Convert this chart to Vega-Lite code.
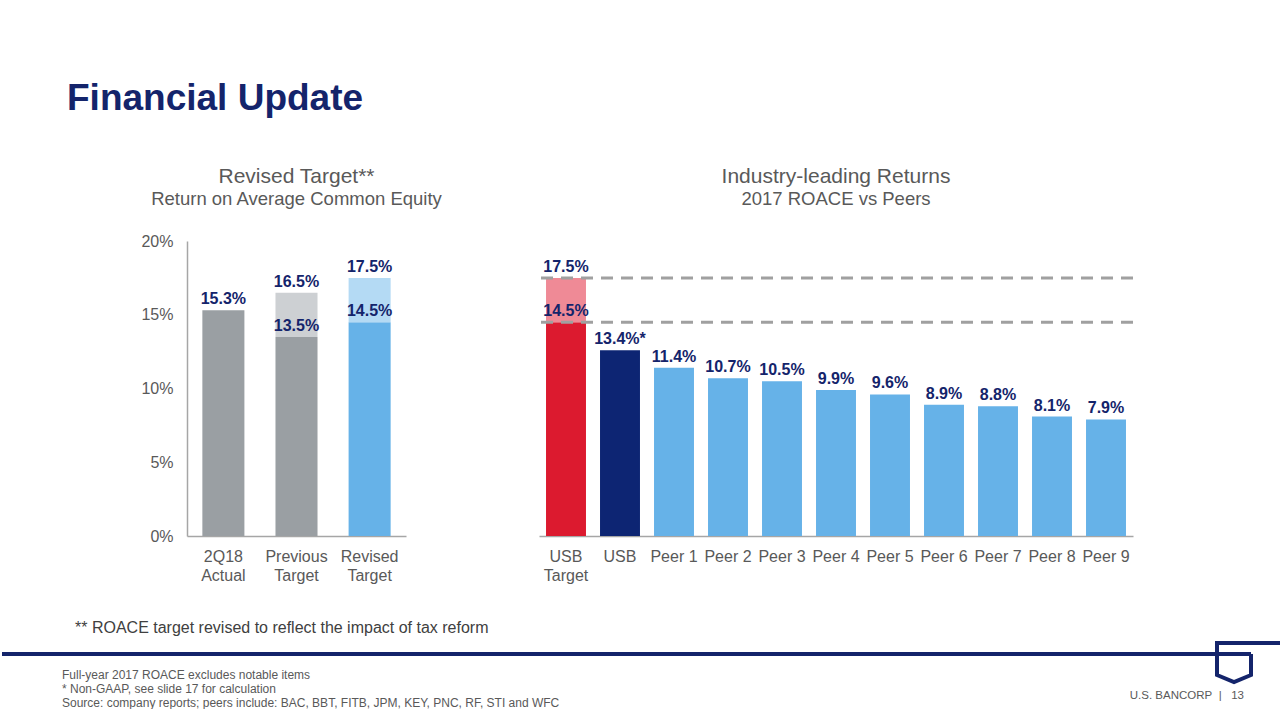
{
  "$schema": "https://vega.github.io/schema/vega-lite/v6.json",
  "background": "white",
  "padding": {"left": 0, "top": 79, "right": 0, "bottom": 0},
  "config": {
    "view": {"stroke": null},
    "font": "Liberation Sans",
    "axis": {"labelFont": "Liberation Sans", "titleFont": "Liberation Sans"},
    "title": {"font": "Liberation Sans", "subtitleFont": "Liberation Sans"},
    "text": {"font": "Liberation Sans"}
  },
  "title": {
    "text": "Financial Update",
    "anchor": "start",
    "frame": "group",
    "dx": 65,
    "fontSize": 37,
    "fontWeight": "bold",
    "color": "#14246b",
    "baseline": "alphabetic",
    "offset": 19
  },
  "spacing": 37,
  "vconcat": [
    {
      "spacing": 94,
      "resolve": {"scale": {"color": "independent", "y": "independent"}},
      "hconcat": [
        {
          "width": 1,
          "height": 295,
          "view": {"fill": "white", "stroke": null},
          "data": {"values": []},
          "mark": {"type": "rule", "opacity": 0},
          "encoding": {}
        },
        {
          "width": 219,
          "height": 295,
          "title": {
            "text": "Revised Target**",
            "subtitle": "Return on Average Common Equity",
            "fontSize": 21,
            "subtitleFontSize": 18.5,
            "fontWeight": "normal",
            "color": "#595959",
            "subtitleColor": "#595959",
            "anchor": "middle",
            "offset": 25,
            "subtitlePadding": 3
          },
          "data": {
            "values": [
              {"cat": "2Q18|Actual", "lo": 0, "hi": 0.153, "seg": "actual", "label": "15.3%"},
              {"cat": "Previous|Target", "lo": 0, "hi": 0.135, "seg": "prevBase", "label": "13.5%"},
              {"cat": "Previous|Target", "lo": 0.135, "hi": 0.165, "seg": "prevTop", "label": "16.5%"},
              {"cat": "Revised|Target", "lo": 0, "hi": 0.145, "seg": "revBase", "label": "14.5%"},
              {"cat": "Revised|Target", "lo": 0.145, "hi": 0.175, "seg": "revTop", "label": "17.5%"}
            ]
          },
          "encoding": {
            "x": {
              "field": "cat",
              "type": "nominal",
              "sort": null,
              "scale": {"paddingInner": 0.425, "paddingOuter": 0.21},
              "axis": {
                "title": null,
                "labelAngle": 0,
                "labelExpr": "split(datum.value, '|')",
                "ticks": false,
                "domainColor": "#a6a6a6",
                "domainWidth": 1.5,
                "labelPadding": 12,
                "labelFontSize": 16,
                "labelColor": "#595959",
                "labelLineHeight": 19
              }
            }
          },
          "layer": [
            {
              "mark": {"type": "bar"},
              "encoding": {
                "y": {
                  "field": "hi",
                  "type": "quantitative",
                  "scale": {"domain": [0, 0.2]},
                  "axis": {
                    "title": null,
                    "values": [0, 0.05, 0.1, 0.15, 0.2],
                    "format": ".0%",
                    "ticks": false,
                    "grid": false,
                    "domainColor": "#a6a6a6",
                    "domainWidth": 1.5,
                    "labelPadding": 14,
                    "labelFontSize": 16,
                    "labelColor": "#595959",
                    "minExtent": 90,
                    "maxExtent": 90
                  }
                },
                "y2": {"field": "lo"},
                "color": {
                  "field": "seg",
                  "type": "nominal",
                  "scale": {
                    "domain": ["actual", "prevBase", "prevTop", "revBase", "revTop"],
                    "range": ["#9a9fa3", "#9a9fa3", "#cdd0d3", "#66b2e8", "#b4daf4"]
                  },
                  "legend": null
                }
              }
            },
            {
              "mark": {"type": "text", "baseline": "alphabetic", "dy": -6, "fontSize": 16, "fontWeight": "bold", "color": "#14246b"},
              "encoding": {
                "y": {"field": "hi", "type": "quantitative"},
                "text": {"field": "label"}
              }
            }
          ]
        },
        {
          "width": 594,
          "height": 295,
          "title": {
            "text": "Industry-leading Returns",
            "subtitle": "2017 ROACE vs Peers",
            "fontSize": 21,
            "subtitleFontSize": 18.5,
            "fontWeight": "normal",
            "color": "#595959",
            "subtitleColor": "#595959",
            "anchor": "middle",
            "offset": 33,
            "subtitlePadding": 3
          },
          "layer": [
            {
              "data": {
                "values": [
                  {"cat": "USB|Target", "lo": 0, "hi": 0.145, "seg": "usbTarget", "label": "14.5%"},
                  {"cat": "USB|Target", "lo": 0.145, "hi": 0.175, "seg": "usbTargetTop", "label": "17.5%"},
                  {"cat": "USB", "lo": 0, "hi": 0.126, "seg": "usb", "label": "13.4%*"},
                  {"cat": "Peer 1", "lo": 0, "hi": 0.114, "seg": "peer", "label": "11.4%"},
                  {"cat": "Peer 2", "lo": 0, "hi": 0.107, "seg": "peer", "label": "10.7%"},
                  {"cat": "Peer 3", "lo": 0, "hi": 0.105, "seg": "peer", "label": "10.5%"},
                  {"cat": "Peer 4", "lo": 0, "hi": 0.099, "seg": "peer", "label": "9.9%"},
                  {"cat": "Peer 5", "lo": 0, "hi": 0.096, "seg": "peer", "label": "9.6%"},
                  {"cat": "Peer 6", "lo": 0, "hi": 0.089, "seg": "peer", "label": "8.9%"},
                  {"cat": "Peer 7", "lo": 0, "hi": 0.088, "seg": "peer", "label": "8.8%"},
                  {"cat": "Peer 8", "lo": 0, "hi": 0.081, "seg": "peer", "label": "8.1%"},
                  {"cat": "Peer 9", "lo": 0, "hi": 0.079, "seg": "peer", "label": "7.9%"}
                ]
              },
              "mark": {"type": "bar"},
              "encoding": {
                "x": {
                  "field": "cat",
                  "type": "nominal",
                  "sort": null,
                  "scale": {"paddingInner": 0.26, "paddingOuter": 0.13},
                  "axis": {
                    "title": null,
                    "labelAngle": 0,
                    "labelExpr": "split(datum.value, '|')",
                    "ticks": false,
                    "domainColor": "#a6a6a6",
                    "domainWidth": 1.5,
                    "labelPadding": 12,
                    "labelFontSize": 16,
                    "labelColor": "#595959",
                    "labelLineHeight": 19
                  }
                },
                "y": {
                  "field": "hi",
                  "type": "quantitative",
                  "scale": {"domain": [0, 0.2]},
                  "axis": null
                },
                "y2": {"field": "lo"},
                "color": {
                  "field": "seg",
                  "type": "nominal",
                  "scale": {
                    "domain": ["usbTarget", "usbTargetTop", "usb", "peer"],
                    "range": ["#dc1a2f", "#ef8a96", "#0d2573", "#66b2e8"]
                  },
                  "legend": null
                }
              }
            },
            {
              "data": {"values": [{"ref": 0.175}, {"ref": 0.145}]},
              "mark": {"type": "rule", "color": "#a0a0a0", "strokeWidth": 3, "strokeDash": [12, 8]},
              "encoding": {
                "y": {"field": "ref", "type": "quantitative"}
              }
            },
            {
              "data": {
                "values": [
                  {"cat": "USB|Target", "hi": 0.145, "label": "14.5%"},
                  {"cat": "USB|Target", "hi": 0.175, "label": "17.5%"},
                  {"cat": "USB", "hi": 0.126, "label": "13.4%*"},
                  {"cat": "Peer 1", "hi": 0.114, "label": "11.4%"},
                  {"cat": "Peer 2", "hi": 0.107, "label": "10.7%"},
                  {"cat": "Peer 3", "hi": 0.105, "label": "10.5%"},
                  {"cat": "Peer 4", "hi": 0.099, "label": "9.9%"},
                  {"cat": "Peer 5", "hi": 0.096, "label": "9.6%"},
                  {"cat": "Peer 6", "hi": 0.089, "label": "8.9%"},
                  {"cat": "Peer 7", "hi": 0.088, "label": "8.8%"},
                  {"cat": "Peer 8", "hi": 0.081, "label": "8.1%"},
                  {"cat": "Peer 9", "hi": 0.079, "label": "7.9%"}
                ]
              },
              "mark": {"type": "text", "baseline": "alphabetic", "dy": -6, "fontSize": 16, "fontWeight": "bold", "color": "#14246b"},
              "encoding": {
                "x": {"field": "cat", "type": "nominal", "sort": null},
                "y": {"field": "hi", "type": "quantitative"},
                "text": {"field": "label"}
              }
            }
          ]
        }
      ]
    },
    {
      "width": 1249,
      "height": 49,
      "title": {
        "text": "** ROACE target revised to reflect the impact of tax reform",
        "anchor": "start",
        "frame": "bounds",
        "dx": 75,
        "fontSize": 16,
        "fontWeight": "normal",
        "color": "#404040",
        "baseline": "alphabetic",
        "offset": -14
      },
      "layer": [
        {
          "data": {"values": [{"item": "separator"}]},
          "mark": {"type": "rule", "color": "#14246b", "strokeWidth": 4},
          "encoding": {"y": {"value": 0}}
        },
        {
          "data": {
            "values": [
              {"line": 1, "text": "Full-year 2017 ROACE excludes notable items"},
              {"line": 2, "text": "* Non-GAAP, see slide 17 for calculation"},
              {"line": 3, "text": "Source: company reports; peers include: BAC, BBT, FITB, JPM, KEY, PNC, RF, STI and WFC"}
            ]
          },
          "mark": {"type": "text", "align": "left", "baseline": "middle", "dx": 60, "fontSize": 12, "color": "#595959"},
          "encoding": {
            "x": {"value": 0},
            "y": {"field": "line", "type": "ordinal", "axis": null, "scale": {"type": "point", "padding": 0.75, "align": 1}},
            "text": {"field": "text"}
          }
        },
        {
          "data": {"values": [{"line": 2, "text": "U.S. BANCORP\u00a0\u00a0|\u00a0\u00a0\u00a013"}]},
          "mark": {"type": "text", "align": "right", "baseline": "middle", "dx": -7, "dy": 7, "fontSize": 11.5, "color": "#595959"},
          "encoding": {
            "x": {"value": "width"},
            "y": {"field": "line", "type": "ordinal"},
            "text": {"field": "text"}
          }
        },
        {
          "data": {"values": [{"line": 1}]},
          "mark": {"type": "point", "shape": "M 31 -32 L -34 -32 L -34 0 L -17 7 L 0 0 L 0 -21", "size": 4, "filled": false, "stroke": "#14246b", "strokeWidth": 4, "opacity": 1},
          "encoding": {
            "x": {"value": "width"},
            "y": {"field": "line", "type": "ordinal"}
          }
        }
      ]
    }
  ]
}
